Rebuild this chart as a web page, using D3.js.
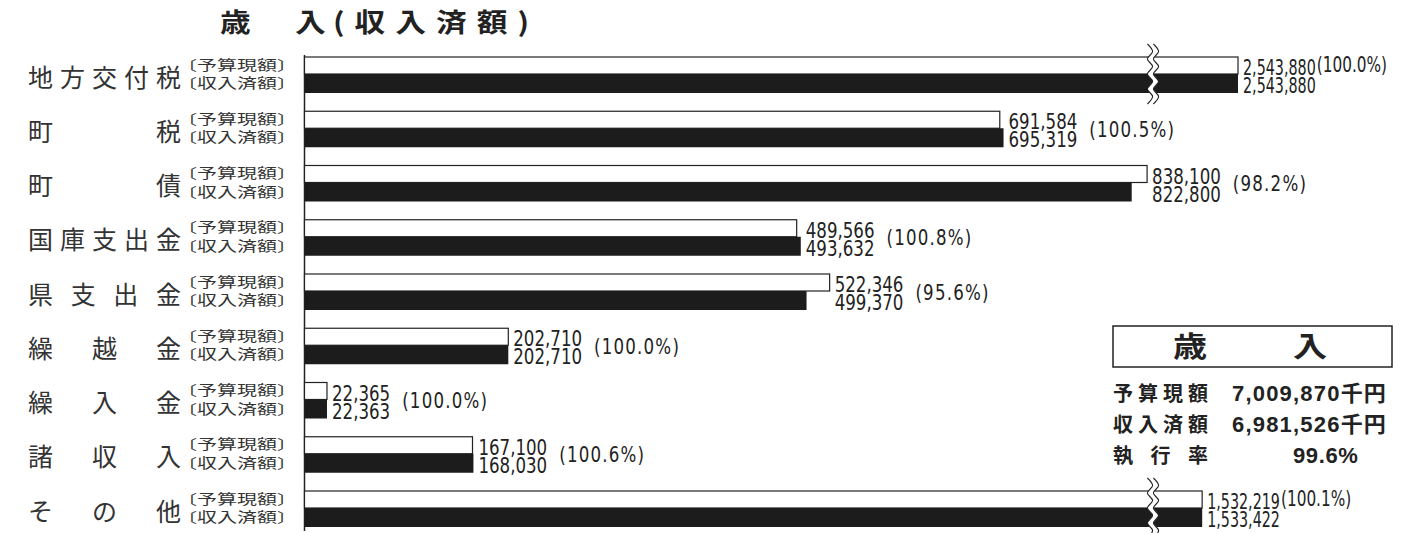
<!DOCTYPE html>
<html>
<head>
<meta charset="utf-8">
<script src="https://cdn.jsdelivr.net/npm/d3@7"></script>
<style>
  body { margin: 0; background: #fff; }
  svg { display: block; }
</style>
</head>
<body>
<script>

// data (千円)
var categories = ["地方交付税", "町税", "町債", "国庫支出金", "県支出金", "繰越金", "繰入金", "諸収入", "その他"];
var budget = [2543880, 691584, 838100, 489566, 522346, 202710, 22365, 167100, 1532219];
var actual = [2543880, 695319, 822800, 493632, 499370, 202710, 22363, 168030, 1533422];
var seriesLabels = ["〔予算現額〕", "〔収入済額〕"];
var titleParts = ["歳", "入", "(収入済額)"];
var boxTitle = ["歳", "入"];
var summaryLabels = ["予算現額", "収入済額", "執行率"];

var width = 1413,
    height = 533;

var ink = "#222";
var numFont = "'DejaVu Sans Condensed', 'Liberation Sans Narrow', sans-serif";
var jpFont = "'Noto Sans CJK JP', sans-serif";

var breakValue = 841000;   // bars longer than this get the wavy cut

var x = d3.scaleLinear()
  .domain([0, breakValue, 1500000, 2600000])
  .range([304.5, 1150, 1201, 1240]);

var y = d3.scaleBand()
  .domain(categories)
  .range([57, 57 + 54.25 * categories.length]);

var whiteH = 17,
    blackH = 19;

var fmtNum = d3.format(",");
var fmtPct = d3.format(".1f");

var rows = categories.map((c, i) => ({cat: c, budget: budget[i], actual: actual[i]}));

const svg = d3.select("body").append("svg")
  .attr("width", width)
  .attr("height", height);

// title
var titleX = [220, 295, 333];
svg.append("g")
  .selectAll("text")
  .data(titleParts)
  .enter().append("text")
  .attr("transform", (d, i) => `translate(${titleX[i]},32) scale(1.18,1)`)
  .attr("font-family", jpFont)
  .attr("font-weight", "bold")
  .attr("font-size", 26)
  .attr("letter-spacing", (d, i) => i == 2 ? 8.5 : 0)
  .attr("fill", ink)
  .text(d => d);

// axis line
svg.append("line")
  .attr("x1", x(0)).attr("x2", x(0))
  .attr("y1", 55).attr("y2", 531)
  .attr("stroke", ink)
  .attr("stroke-width", 1.5);

const row = svg.append("g")
  .selectAll("g")
  .data(rows)
  .enter().append("g")
  .attr("transform", d => `translate(0,${y(d.cat)})`);

// category names, spread over a fixed width
row.each(function(d) {
  var chars = Array.from(d.cat);
  var pos = d3.scalePoint().domain(d3.range(chars.length)).range([28, 156]);
  d3.select(this).selectAll(".cat")
    .data(chars)
    .enter().append("text")
    .attr("class", "cat")
    .attr("x", (c, i) => pos(i))
    .attr("y", 29.5)
    .attr("font-family", jpFont)
    .attr("font-size", 25)
    .attr("fill", "#333")
    .text(c => c);
});

// 〔予算現額〕〔収入済額〕
row.selectAll(".series")
  .data(seriesLabels)
  .enter().append("text")
  .attr("class", "series")
  .attr("transform", (d, i) => `translate(177,${i == 0 ? 12.7 : 31.2}) scale(1.25,0.85)`)
  .attr("font-family", jpFont)
  .attr("font-size", 16)
  .attr("fill", "#333")
  .text(d => d);

// bars
row.append("rect")
  .attr("x", x(0))
  .attr("y", 0)
  .attr("width", d => x(d.budget) - x(0))
  .attr("height", whiteH)
  .attr("fill", "#fff")
  .attr("stroke", ink)
  .attr("stroke-width", 1.2);

row.append("rect")
  .attr("x", x(0))
  .attr("y", whiteH)
  .attr("width", d => x(d.actual) - x(0))
  .attr("height", blackH)
  .attr("fill", "#1c1c1c");

// wavy break marks
function wave(x0, y0, y1) {
  var pts = [], k = 0;
  for (var yy = y0; yy <= y1; yy += 7.5, k++) {
    pts.push([x0 + (k % 2 ? 2.6 : -2.6), yy]);
  }
  return d3.line().curve(d3.curveCatmullRom)(pts);
}

var broken = row.filter(d => Math.max(d.budget, d.actual) > breakValue);
var bx = x(breakValue);
broken.append("path")
  .attr("d", wave(bx + 3, -13, whiteH + blackH + 12))
  .attr("fill", "none")
  .attr("stroke", "#fff")
  .attr("stroke-width", 5);
[0, 6].forEach(function(off) {
  broken.append("path")
    .attr("d", wave(bx + off, -13, whiteH + blackH + 12))
    .attr("fill", "none")
    .attr("stroke", ink)
    .attr("stroke-width", 1.1);
});

// value labels
row.each(function(d) {
  var g = d3.select(this);
  var lx = x(Math.max(d.budget, d.actual)) + 5;
  var isBroken = Math.max(d.budget, d.actual) > breakValue;
  var sx = isBroken ? 0.86 : 1;
  var lines = [[d.budget, 18], [d.actual, 36]];
  var w = 0;
  lines.forEach(function(l) {
    var t = g.append("text")
      .attr("transform", `translate(${lx},${l[1]}) scale(${sx},1.15)`)
      .attr("font-family", numFont)
      .attr("font-size", 18.5)
      .attr("fill", ink)
      .text(fmtNum(l[0]));
    w = Math.max(w, t.node().getComputedTextLength() * sx);
  });
  g.append("text")
    .attr("transform", `translate(${lx + w + (isBroken ? 1 : 12)},${isBroken ? 15 : 25.5}) scale(${isBroken ? 0.92 : 1},1.1)`)
    .attr("font-family", numFont)
    .attr("font-size", 18.5)
    .attr("letter-spacing", isBroken ? 0 : 1.2)
    .attr("fill", ink)
    .text("(" + fmtPct(d.actual / d.budget * 100) + "%)");
});

// summary box
var totalBudget = d3.sum(budget),
    totalActual = d3.sum(actual);

svg.append("rect")
  .attr("x", 1113).attr("y", 326)
  .attr("width", 279).attr("height", 41)
  .attr("fill", "none")
  .attr("stroke", ink)
  .attr("stroke-width", 1.5);

svg.selectAll(".boxTitle")
  .data(boxTitle)
  .enter().append("text")
  .attr("class", "boxTitle")
  .attr("transform", (d, i) => `translate(${i == 0 ? 1173 : 1293},357) scale(1.22,1)`)
  .attr("font-family", jpFont)
  .attr("font-weight", "bold")
  .attr("font-size", 28)
  .attr("fill", ink)
  .text(d => d);

var summaryValues = [fmtNum(totalBudget) + "千円", fmtNum(totalActual) + "千円", fmtPct(totalActual / totalBudget * 100) + "%"];

summaryLabels.forEach(function(lab, i) {
  var chars = Array.from(lab);
  var pos = d3.scalePoint().domain(d3.range(chars.length)).range([1113, 1113 + 25 * 3]);
  var by = 400.5 + i * 31;
  svg.append("g")
    .selectAll("text")
    .data(chars)
    .enter().append("text")
    .attr("x", (c, j) => pos(j))
    .attr("y", by)
    .attr("font-family", jpFont)
    .attr("font-weight", "bold")
    .attr("font-size", 20)
    .attr("fill", ink)
    .text(c => c);
  svg.append("text")
    .attr("x", i == 2 ? 1293 : 1232)
    .attr("y", by)
    .attr("font-family", "'Liberation Sans', " + jpFont)
    .attr("font-weight", "bold")
    .attr("font-size", 22)
    .attr("letter-spacing", i == 2 ? 0.6 : 1.2)
    .attr("fill", ink)
    .text(summaryValues[i]);
});

</script>
</body>
</html>
